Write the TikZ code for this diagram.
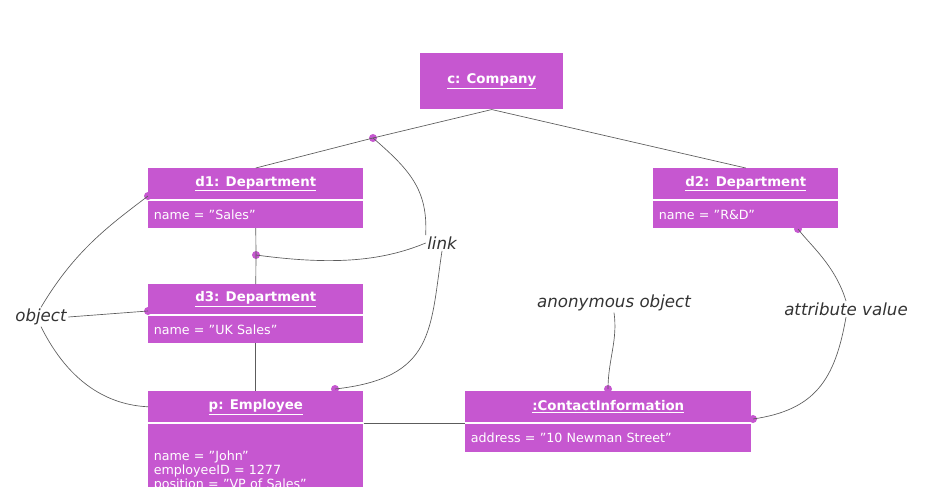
\documentclass[tikz,border=0pt]{standalone}
\usepackage{fontspec}
\setmainfont{DejaVu Sans}
\usetikzlibrary{positioning}
\definecolor{boxpurple}{HTML}{C657D0}
\definecolor{labelgray}{HTML}{333333}
\tikzset{
  objtitle/.style = {fill=boxpurple, text=white, font=\bfseries\fontsize{10}{12}\selectfont, inner sep=0pt, anchor=north west},
  objattr/.style  = {fill=boxpurple, text=white, font=\fontsize{9.5}{10.5}\selectfont, inner xsep=4pt, inner ysep=0pt, align=left, anchor=north west, text depth=0pt},
  linkline/.style = {draw=labelgray!80, line width=0.5pt},
  note/.style     = {text=labelgray, font=\itshape\fontsize{12.5}{14}\selectfont, inner sep=1pt},
  joint/.style    = {circle, fill=boxpurple, inner sep=0pt, minimum size=6pt},
}
\begin{document}
\begin{tikzpicture}[x=0.75pt,y=-0.75pt]
  \useasboundingbox (0,0) rectangle (945,501);
  % objects
  \node[objtitle, minimum width=107.25pt, minimum height=42pt] (c) at (420,53) {\underline{c: Company}};
  \node[objtitle, minimum width=161.25pt, minimum height=23.25pt] (d1) at (148,168) {\underline{d1: Department}};
  \node[objattr, minimum width=161.25pt, minimum height=20.25pt, text width=153pt, below=0.75pt of d1.south west, anchor=north west] (d1a) {name = "Sales"};
  \node[objtitle, minimum width=138.75pt, minimum height=23.25pt] (d2) at (653,168) {\underline{d2: Department}};
  \node[objattr, minimum width=138.75pt, minimum height=20.25pt, text width=130.5pt, below=0.75pt of d2.south west, anchor=north west] (d2a) {name = "R\&D"};
  \node[objtitle, minimum width=161.25pt, minimum height=22.5pt] (d3) at (148,284) {\underline{d3: Department}};
  \node[objattr, minimum width=161.25pt, minimum height=20.25pt, text width=153pt, below=0.75pt of d3.south west, anchor=north west] (d3a) {name = "UK Sales"};
  \node[objtitle, minimum width=161.25pt, minimum height=23.25pt] (p) at (148,391) {\underline{p: Employee}};
  \node[objattr, minimum width=161.25pt, minimum height=47.25pt, text width=153pt, below=0.75pt of p.south west, anchor=north west] (pa) {name = "John"\\employeeID = 1277\\position = "VP of Sales"};
  \node[objtitle, minimum width=214.5pt, minimum height=23.25pt] (ci) at (465,391) {\underline{:ContactInformation}};
  \node[objattr, minimum width=214.5pt, minimum height=21pt, text width=206pt, below=0.75pt of ci.south west, anchor=north west] (cia) {address = "10 Newman Street"};

  % labels
  \node[note] (obj) at (41,317) {object};
  \node[note] (lnk) at (442,243) {link};
  \node[note] (anon) at (614,303) {anonymous object};
  \node[note] (attr) at (846,309) {attribute value};

  % joints
  \node[joint] (j1) at (373,138) {};
  \node[joint] (j2) at (256,255) {};
  \node[joint] (jp) at (335,389) {};
  \node[joint] (jo1) at (148,196) {};
  \node[joint] (jo3) at (148,311) {};
  \node[joint] (jci) at (608,389) {};
  \node[joint] (jd2) at (798,229) {};
  \node[joint] (jcr) at (753,419) {};

  % links
  \draw[linkline] (c.south) -- (j1.center) -- (d1.north);
  \draw[linkline] (c.south) -- (d2.north);
  \draw[linkline] (d1a.south) -- (j2.center) -- (d3.north);
  \draw[linkline] (d3a.south) -- (p.north);
  \draw[linkline] (pa.north east) -- (cia.north west);
  \draw[linkline] (j1.center) .. controls (410,170) and (428,190) .. (lnk.north west);
  \draw[linkline] (j2.center) .. controls (330,265) and (380,262) .. (lnk.west);
  \draw[linkline] (lnk.south) .. controls (430,330) and (435,378) .. (jp.center);
  \draw[linkline] (obj.north) .. controls (75,250) and (110,225) .. (jo1.center);
  \draw[linkline] (obj.east) -- (jo3.center);
  \draw[linkline] (obj.south) .. controls (70,385) and (110,405) .. (p.west);
  \draw[linkline] (anon.south) .. controls (618,340) and (608,360) .. (jci.center);
  \draw[linkline] (attr.north) .. controls (835,265) and (810,245) .. (jd2.center);
  \draw[linkline] (attr.south) .. controls (835,380) and (815,410) .. (jcr.center);
\end{tikzpicture}
\end{document}
